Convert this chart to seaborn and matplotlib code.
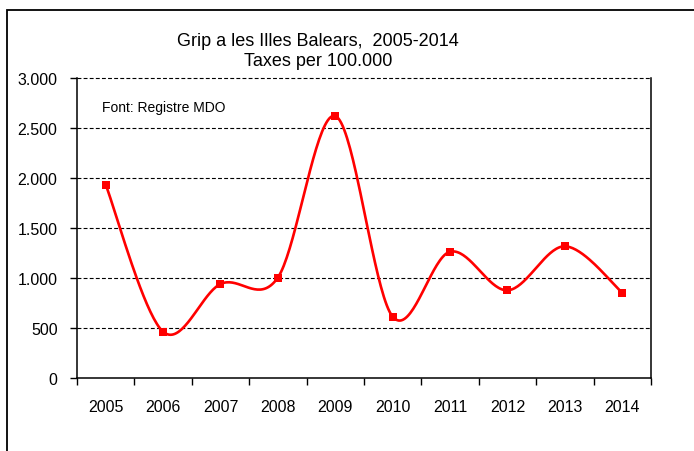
import numpy as np
import pandas as pd
import matplotlib
matplotlib.use("Agg")
import matplotlib.pyplot as plt
import seaborn as sns
from matplotlib.patches import Rectangle
from matplotlib.ticker import FixedLocator, FuncFormatter, NullFormatter

years = ["2005", "2006", "2007", "2008", "2009", "2010", "2011", "2012", "2013", "2014"]
rates = [1933, 463, 940, 1005, 2620, 613, 1263, 877, 1317, 853]
y_ticks = [0, 500, 1000, 1500, 2000, 2500, 3000]
title_line1 = "Grip a les Illes Balears,  2005-2014"
title_line2 = "Taxes per 100.000"
source_note = "Font: Registre MDO"

sns.set_style("white")
plt.rcParams["font.family"] = ["Liberation Sans", "DejaVu Sans"]

fig = plt.figure(figsize=(6.94, 4.52), dpi=100)
ax = fig.add_axes([77 / 694, 1 - 379 / 452, (651 - 77) / 694, (379 - 79) / 452])

# Excel-style smoothed line (Catmull-Rom Bezier) drawn through the data points
x = np.arange(len(rates), dtype=float)
y = np.array(rates, dtype=float)
px = np.concatenate([[x[0]], x, [x[-1]]])
py = np.concatenate([[y[0]], y, [y[-1]]])
cx, cy = [], []
t = np.linspace(0, 1, 40)
for i in range(len(x) - 1):
    p0 = np.array([px[i + 1], py[i + 1]])
    p3 = np.array([px[i + 2], py[i + 2]])
    b1 = p0 + (np.array([px[i + 2], py[i + 2]]) - np.array([px[i], py[i]])) / 6
    b2 = p3 - (np.array([px[i + 3], py[i + 3]]) - np.array([px[i + 1], py[i + 1]])) / 6
    pts = ((1 - t) ** 3)[:, None] * p0 + (3 * (1 - t) ** 2 * t)[:, None] * b1 \
        + (3 * (1 - t) * t ** 2)[:, None] * b2 + (t ** 3)[:, None] * p3
    cx.extend(pts[:, 0])
    cy.extend(pts[:, 1])
curve = pd.DataFrame({"x": cx, "y": cy, "seg": np.repeat(np.arange(len(x) - 1), len(t))})

for lvl in y_ticks[1:]:
    ax.axhline(lvl, color="black", lw=0.8, ls=(0, (3.5, 2)), clip_on=False, zorder=1)

ax.plot(curve["x"], curve["y"], color="#ff0000", lw=1.9, zorder=3, solid_capstyle="round")
pts_df = pd.DataFrame({"x": x, "rate": rates})
sns.scatterplot(data=pts_df, x="x", y="rate", ax=ax, marker="s", s=26, color="#ff0000",
                edgecolor="#ff0000", linewidth=0, zorder=4, legend=False)

ax.set_xlim(-0.5, len(years) - 0.5)
ax.set_ylim(0, 3000)
ax.xaxis.set_major_locator(FixedLocator(np.arange(-0.5, len(years), 1.0)))
ax.xaxis.set_major_formatter(NullFormatter())
ax.xaxis.set_minor_locator(FixedLocator(np.arange(len(years))))
ax.set_xticklabels(years, minor=True)
ax.tick_params(axis="x", which="major", length=5, width=1, direction="out", color="black", bottom=True)
ax.tick_params(axis="x", which="minor", length=0, pad=15, labelsize=11.5, labelcolor="black", bottom=True)
ax.set_yticks(y_ticks)
ax.yaxis.set_major_formatter(FuncFormatter(lambda v, p: f"{int(v):,}".replace(",", ".")))
ax.tick_params(axis="y", length=5, width=1, direction="out", color="black", pad=9,
               labelsize=11.5, labelcolor="black", left=True)
ax.set_xlabel("")
ax.set_ylabel("")

for side in ["left", "bottom", "right"]:
    ax.spines[side].set_visible(True)
    ax.spines[side].set_color("black")
    ax.spines[side].set_linewidth(1.1)
ax.spines["top"].set_visible(False)
ax.grid(False)

ax.text(25 / 574, 1 - (108 - 79) / 300, source_note, transform=ax.transAxes,
        fontsize=10, va="center", ha="left", color="black")

fig.text(318 / 694, 1 - 42 / 452, title_line1, ha="center", va="center", fontsize=13, color="black")
fig.text(318 / 694, 1 - 61 / 452, title_line2, ha="center", va="center", fontsize=13, color="black")

fig.patches.append(Rectangle((7 / 694, -0.1), 1.2, 1.1 + (452 - 11) / 452 - 1 + 0.0,
                             transform=fig.transFigure, fill=False, edgecolor="black", lw=1.3))

fig.savefig("out.png", dpi=100, facecolor="white")
